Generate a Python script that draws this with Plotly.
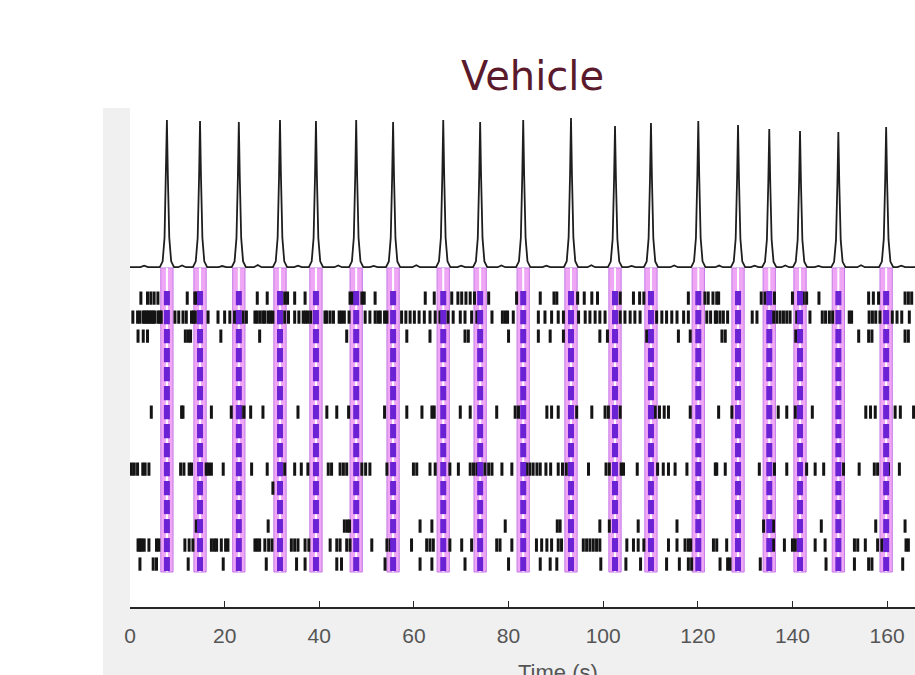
import plotly.graph_objects as go

# ---------------- data ----------------
peak_times = [7.8, 14.8, 23.0, 31.7, 39.3, 47.8, 55.6, 66.2, 74.0, 83.1,
              93.2, 102.5, 110.1, 120.1, 128.5, 135.1, 141.6, 149.7, 159.8]
peak_amps = [1.0, 0.993, 0.986, 1.0, 0.993, 1.0, 0.986, 1.0, 0.986, 1.0,
             1.014, 0.959, 0.98, 0.993, 0.966, 0.939, 0.925, 0.918, 0.952]
# small baseline wiggles of the trace (time s, value)
wiggle_times = [3.0, 11.0, 19.5, 27.0, 35.5, 44.0, 51.5, 60.5, 70.0, 78.5, 88.0, 97.5,
                106.0, 115.0, 124.5, 132.0, 138.5, 145.5, 154.5, 163.0]
wiggle_vals = [0.01, 0.012, 0.008, 0.015, 0.01, 0.012, 0.009, 0.014, 0.01, 0.012, 0.01,
               0.013, 0.009, 0.012, 0.011, 0.01, 0.012, 0.009, 0.013, 0.01]

# spike times (s) per neuron row (row 1 at top)
row1 = [2.3, 3.7, 4.4, 5.1, 5.9, 12.1, 13.7, 14.1, 26.9, 29.0, 32.0, 32.7, 33.3, 34.8, 37.0,
        46.5, 47.0, 49.0, 49.5, 51.8, 62.4, 64.3, 68.0, 69.3, 70.1, 71.0, 71.9, 72.8, 75.8, 81.7,
        86.7, 89.6, 90.2, 94.6, 96.0, 97.6, 98.8, 103.6, 106.4, 107.7, 108.6, 118.0, 121.5, 122.2,
        123.2, 124.0, 124.4, 133.4, 134.2, 136.2, 140.0, 142.3, 143.0, 145.6, 156.1, 157.1, 158.2,
        163.8, 164.5, 165.2]
row2 = [0.6, 1.6, 2.1, 2.8, 3.1, 3.5, 3.8, 4.2, 4.5, 4.9, 5.2, 5.9, 6.3, 6.6, 9.5, 10.3, 11.2,
        11.9, 13.0, 13.4, 13.8, 16.5, 18.6, 20.0, 21.1, 22.1, 23.9, 24.6, 26.4, 26.9, 27.5, 28.1,
        28.5, 29.2, 29.7, 30.2, 32.7, 33.5, 34.8, 35.7, 36.6, 37.1, 37.6, 38.2, 41.2, 41.6, 42.3,
        43.0, 44.2, 44.7, 45.3, 46.3, 49.7, 50.7, 51.8, 52.4, 52.9, 53.8, 54.3, 57.4, 58.3, 59.2,
        60.1, 61.1, 62.2, 63.4, 64.5, 65.5, 67.2, 68.3, 69.8, 70.8, 72.2, 73.3, 76.5, 78.7, 79.3,
        79.8, 81.0, 86.3, 87.7, 89.1, 90.5, 91.6, 94.8, 96.2, 97.2, 98.3, 99.3, 100.4, 103.6,
        104.6, 105.7, 106.7, 107.8, 111.3, 112.4, 113.4, 114.5, 115.6, 117.0, 118.0, 121.9,
        122.7, 123.7, 124.0, 124.7, 125.4, 126.3, 131.5, 132.5, 136.0, 136.7, 137.4, 138.1,
        138.8, 139.5, 140.9, 143.7, 146.3, 147.0, 147.8, 148.5, 152.0, 152.5, 156.2, 156.9,
        157.6, 158.5, 161.1, 162.1, 163.1, 164.7]
row3 = [1.7, 2.8, 3.7, 11.7, 12.3, 12.8, 19.2, 27.4, 45.8, 58.5, 63.4, 70.8, 71.5, 80.0, 86.3,
        88.8, 91.6, 99.3, 100.9, 109.2, 115.9, 118.4, 125.1, 125.8, 140.7, 154.0, 156.1, 156.8,
        163.8, 164.5]
row4, row5, row6 = [], [], []
row7 = [4.5, 10.9, 11.2, 17.2, 21.4, 23.5, 24.1, 25.5, 28.1, 35.5, 41.6, 43.7, 46.2, 53.8, 58.5,
        61.7, 63.8, 64.3, 69.8, 71.9, 77.5, 81.4, 82.1, 88.1, 89.1, 90.5, 94.4, 97.6, 100.4,
        101.1, 103.6, 111.0, 111.9, 112.9, 113.8, 118.4, 124.4, 127.2, 137.0, 138.8, 140.6,
        144.2, 155.5, 156.5, 157.5, 161.7, 162.8, 165.6]
row8, row9 = [], []
row10 = [0.3, 0.9, 1.6, 2.7, 3.2, 4.0, 10.7, 11.4, 12.5, 13.0, 16.1, 16.6, 17.2, 19.7, 25.7,
         29.0, 32.7, 34.8, 36.2, 37.6, 41.9, 42.6, 44.4, 45.1, 45.8, 49.0, 49.8, 50.7, 54.3,
         59.9, 60.6, 63.4, 64.5, 67.6, 69.4, 71.9, 72.6, 73.3, 75.0, 75.8, 76.5, 78.6, 80.7,
         83.8, 84.5, 85.2, 86.0, 86.7, 87.9, 88.9, 90.5, 91.4, 92.2, 96.9, 100.6, 101.3, 103.8,
         104.3, 107.2, 111.5, 112.7, 113.8, 115.2, 117.7, 123.7, 124.0, 125.8, 133.0, 136.2,
         138.8, 143.0, 144.8, 146.6, 150.8, 154.1, 157.3, 158.0, 160.3, 162.6]
row11 = [30.2]
row12 = []
row13 = [14.0, 29.2, 45.3, 45.9, 46.4, 61.3, 63.8, 79.3, 90.3, 90.9, 99.3, 101.3, 107.4, 115.6,
         133.9, 136.0, 146.1, 157.6, 163.8]
row14 = [1.7, 2.1, 2.5, 3.0, 4.0, 5.6, 6.1, 11.6, 12.5, 13.3, 17.2, 17.8, 18.3, 19.3, 20.2, 20.7,
         26.4, 26.9, 27.4, 28.5, 29.3, 30.0, 34.1, 34.8, 35.5, 37.0, 37.8, 42.3, 43.7, 44.4, 45.8,
         46.5, 51.1, 54.3, 55.0, 59.5, 62.7, 63.4, 64.1, 67.6, 70.1, 72.2, 77.5, 78.2, 80.7, 85.9,
         87.0, 88.1, 89.1, 90.5, 91.2, 95.8, 96.5, 97.2, 97.9, 98.6, 99.3, 105.0, 106.4, 107.4,
         108.6, 113.8, 115.6, 117.3, 118.0, 118.5, 123.3, 124.0, 126.1, 136.0, 138.3, 140.0,
         140.6, 144.8, 146.9, 153.1, 153.8, 155.4, 158.0, 158.9, 164.0, 164.5]
row15 = [2.1, 4.9, 5.6, 12.3, 19.7, 28.8, 35.2, 37.0, 43.7, 44.7, 53.9, 61.3, 63.8, 70.8, 80.0,
         86.7, 88.8, 90.2, 99.5, 104.8, 107.9, 113.4, 116.1, 118.0, 118.7, 124.7, 126.3, 126.8,
         133.2, 147.1, 153.1, 156.1, 156.8, 163.3]

rows = [row1, row2, row3, row4, row5, row6, row7, row8, row9, row10,
        row11, row12, row13, row14, row15]
x_ticks = [0, 20, 40, 60, 80, 100, 120, 140, 160]
title_text = "Vehicle"
x_title = "Time (s)"

# ---------------- build figure ----------------
fig = go.Figure()

# calcium trace: vertices around each read peak plus baseline wiggles
pts = [(0.0, 0.0), (166.0, 0.0)]
offs = [-1.5, -0.9, -0.5, -0.2, 0.0, 0.2, 0.5, 0.9, 1.5]
fr = [0.0, 0.04, 0.2, 0.62, 1.0, 0.62, 0.2, 0.04, 0.0]
for t, a in zip(peak_times, peak_amps):
    for o, f in zip(offs, fr):
        pts.append((t + o, a * f))
for t, v in zip(wiggle_times, wiggle_vals):
    pts += [(t - 0.8, 0.0), (t, v), (t + 0.8, 0.0)]
pts.sort()
fig.add_trace(go.Scatter(x=[p[0] for p in pts], y=[p[1] for p in pts], mode="lines",
                         yaxis="y2", line=dict(color="#1e1e1e", width=1.8),
                         hoverinfo="skip", showlegend=False))

# black spikes
sx, sy = [], []
for r, times in enumerate(rows, start=1):
    for t in times:
        sx += [t, t, None]
        sy += [r - 0.35, r + 0.35, None]
fig.add_trace(go.Scatter(x=sx, y=sy, mode="lines", yaxis="y",
                         line=dict(color="#141414", width=3),
                         hoverinfo="skip", showlegend=False))

# purple burst spikes during each peak
px_, py_ = [], []
for t in peak_times:
    for r in range(1, 16):
        px_ += [t, t, None]
        py_ += [r - 0.37, r + 0.37, None]
fig.add_trace(go.Scatter(x=px_, y=py_, mode="lines", yaxis="y",
                         line=dict(color="#6a22d4", width=6),
                         hoverinfo="skip", showlegend=False))

shapes = []
# grey figure panel around the white axes
shapes.append(dict(type="rect", xref="paper", yref="paper", x0=-0.0344, x1=1.0,
                   y0=-0.2, y1=1.0, fillcolor="#f0f0f0", line=dict(width=0),
                   layer="below"))
shapes.append(dict(type="rect", xref="paper", yref="paper", x0=0.0, x1=1.0,
                   y0=0.0, y1=1.0, fillcolor="white", line=dict(width=0),
                   layer="below"))
band_y0, band_y1 = 0.0701, 0.6794
for t in peak_times:
    shapes.append(dict(type="rect", xref="x", yref="paper", x0=t - 1.3, x1=t + 1.3,
                       y0=band_y0, y1=band_y1, fillcolor="#efa6f5",
                       line=dict(color="#c57ae6", width=1), layer="below"))
    shapes.append(dict(type="line", xref="x", yref="paper", x0=t, x1=t,
                       y0=band_y0, y1=band_y1, line=dict(color="white", width=2),
                       layer="below"))

fig.update_layout(
    width=915, height=675,
    margin=dict(l=130, r=0, t=108, b=68),
    paper_bgcolor="white", plot_bgcolor="white",
    showlegend=False,
    shapes=shapes,
    xaxis=dict(range=[0, 165.9], tickvals=x_ticks, ticks="inside", ticklen=6,
               tickwidth=1.2, tickcolor="#262626", showline=True, linecolor="#262626",
               linewidth=1.5, showgrid=False, zeroline=False, anchor="y",
               tickfont=dict(family="Liberation Sans", size=21, color="#555555"),
               ticklabelstandoff=9),
    yaxis=dict(domain=[0, 0.655], range=[17.26, 0.053], visible=False, showgrid=False,
               zeroline=False),
    yaxis2=dict(domain=[0.655, 1.0], range=[-0.088, 1.082], visible=False,
                showgrid=False, zeroline=False, anchor="x"),
    annotations=[
        dict(text=title_text, xref="paper", yref="paper", x=0.513, y=1.064,
             xanchor="center", yanchor="middle", showarrow=False,
             font=dict(family="DejaVu Sans", size=40, color="#5a1a2c")),
        dict(text=x_title, xref="paper", yref="paper", x=0.545, y=-0.102,
             xanchor="center", yanchor="top", showarrow=False,
             font=dict(family="Liberation Sans", size=22, color="#555555")),
    ],
)

fig.write_html("out.html")
